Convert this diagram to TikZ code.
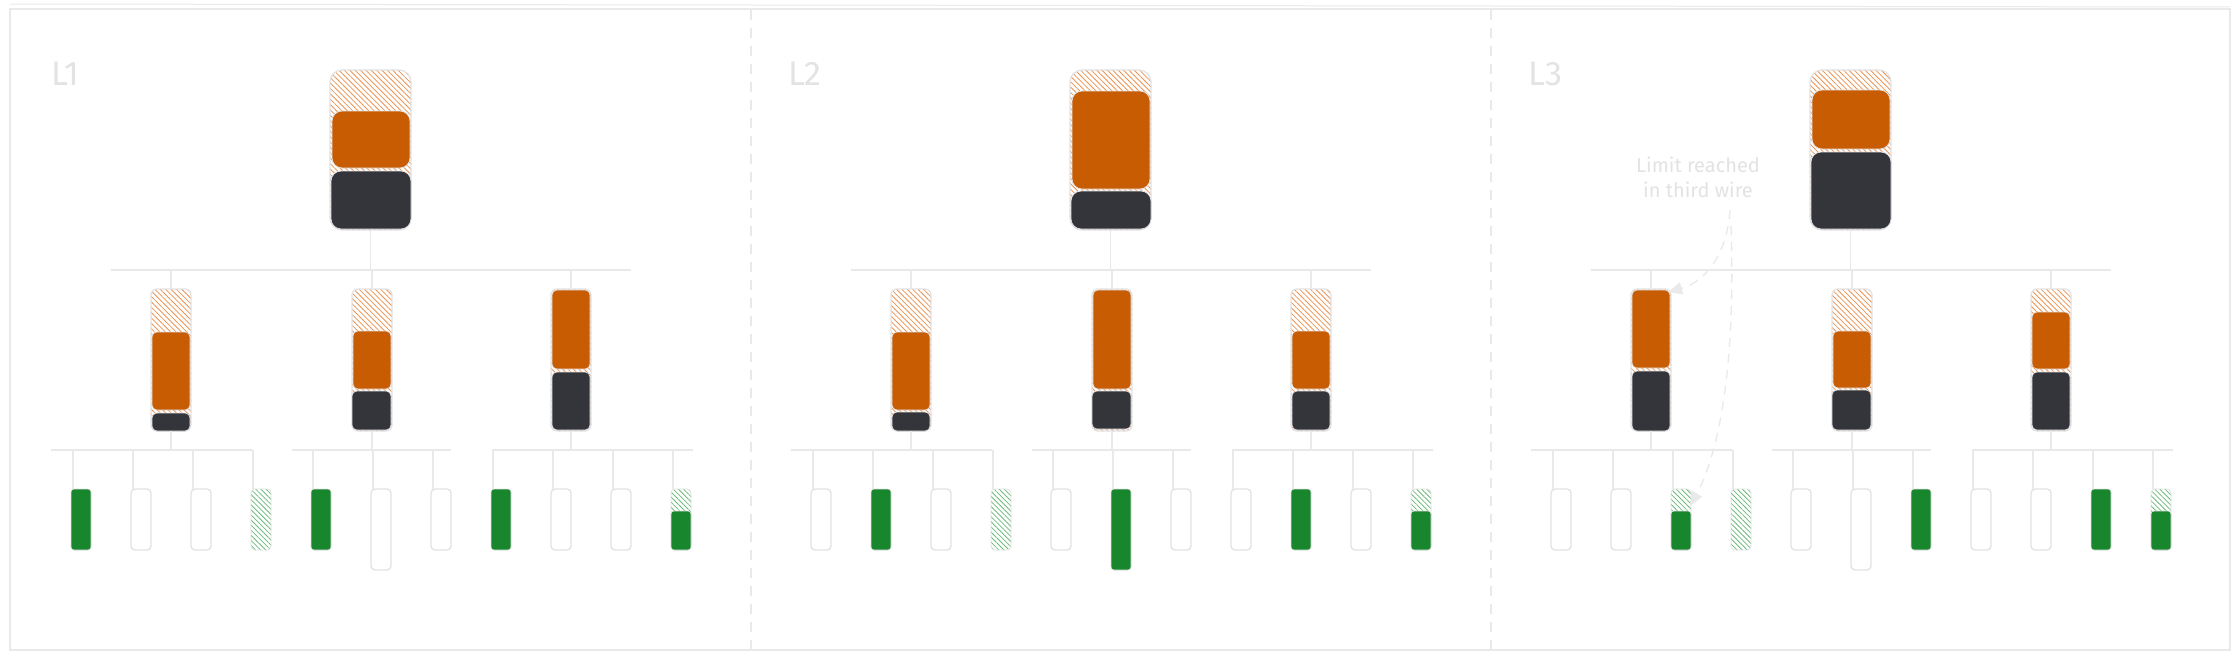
\documentclass[tikz,border=0pt]{standalone}
\usepackage{fontspec}
\setmainfont{Fira Sans}
\usetikzlibrary{patterns.meta,arrows.meta}
\definecolor{orng}{HTML}{C85C02}
\definecolor{drk}{HTML}{33353B}
\definecolor{grn}{HTML}{18862C}
\definecolor{lgray}{HTML}{E9E9E9}
\definecolor{edge}{HTML}{E2E2E4}
\definecolor{hatchO}{HTML}{EB9352}
\definecolor{hatchG}{HTML}{6DBB7A}
\definecolor{txtgray}{HTML}{E3E3E3}
\tikzset{
  base/.style={rectangle,inner sep=0pt,outer sep=0pt},
  capTop/.style={base,rounded corners=12pt,draw=edge,line width=1.2pt,
     pattern={Lines[angle=-45,distance=3.8pt,line width=0.8pt]},pattern color=hatchO},
  capKid/.style={capTop,rounded corners=6pt},
  ofT/.style={base,rounded corners=10pt,fill=orng,draw=edge,line width=0.8pt},
  dfT/.style={base,rounded corners=10pt,fill=drk,draw=edge,line width=0.8pt},
  ofK/.style={base,rounded corners=5pt,fill=orng,draw=edge,line width=0.6pt},
  dfK/.style={base,rounded corners=5pt,fill=drk,draw=edge,line width=0.6pt},
  leafE/.style={base,rounded corners=4pt,draw=edge,line width=1.3pt},
  leafG/.style={base,rounded corners=3pt,fill=grn,draw=edge,line width=0.6pt},
  leafH/.style={base,rounded corners=4pt,draw=edge,line width=0.8pt,
     pattern={Lines[angle=-45,distance=3.6pt,line width=0.8pt]},pattern color=hatchG},
  bus/.style={draw=lgray,line width=2.6pt},
  wire/.style={draw=lgray,line width=1.4pt},
  frame/.style={draw=lgray,line width=1.6pt},
  sep/.style={draw=lgray,line width=1.4pt,dash pattern=on 10pt off 8pt},
  lbl/.style={text=txtgray,font=\fontsize{34}{40}\selectfont,inner sep=0pt},
  note/.style={text=txtgray,font=\fontsize{20}{25}\selectfont,align=center,inner sep=0pt},
  callout/.style={draw=lgray,line width=1.3pt,dash pattern=on 9pt off 7pt,
     -{Triangle[length=14pt,width=12pt,fill=lgray]}},
}
\newcommand\bx[6]{\node[#2,minimum width={((#5)-(#3))*1pt},minimum height={((#6)-(#4))*1pt}] (#1) at ({((#3)+(#5))/2},{((#4)+(#6))/2}) {};}
\newcommand\leaf[4]{\bx{#1}{#3}{71+60*#2}{489}{91+60*#2}{#4}}
\newcommand\leafpart[2]{\bx{#1}{leafG}{71+60*#2}{511}{91+60*#2}{550}}
\newcommand\panelwires[1]{%
  \coordinate (#1B0l) at (111,270); \coordinate (#1B0r) at (631,270);
  \coordinate (#1B1l) at (51,450); \coordinate (#1B1r) at (252,450);
  \coordinate (#1B2l) at (292,450); \coordinate (#1B2r) at (451,450);
  \coordinate (#1B3l) at (492,450); \coordinate (#1B3r) at (693,450);
  \draw[bus] (#1B0l) -- (#1B0r);
  \draw[bus] (#1B1l) -- (#1B1r);
  \draw[bus] (#1B2l) -- (#1B2r);
  \draw[bus] (#1B3l) -- (#1B3r);
  \draw[wire] (#1T.south) -- (#1T.south |- #1B0l);
  \foreach \c in {1,2,3}{%
    \draw[wire] (#1C\c.north) -- (#1C\c.north |- #1B0l);
    \draw[wire] (#1C\c.south) -- (#1C\c.south |- #1B1l);}
  \foreach \k in {0,...,10}{%
    \draw[wire] ([xshift=2pt]#1L\k.north west) -- ([xshift=2pt]#1L\k.north west |- #1B1l);}
}
\begin{document}
\begin{tikzpicture}[x=1pt,y=-1pt]
\useasboundingbox (0,0) rectangle (2240,661);
\fill[white] (0,0) rectangle (2240,661);
% frame and separators
\draw[frame] (10,9) rectangle (2230,650);
\draw[frame,line width=1pt] (10,4) -- (2230,7);
\draw[sep] (751,10) -- (751,650);
\draw[sep] (1491,10) -- (1491,650);
% ---------------- L1
\begin{scope}
\node[lbl] (labA) at (65,74) {L1};
\bx{aT}{capTop}{330}{70}{411}{230}
\bx{aTo}{ofT}{332}{111}{410}{168}
\bx{aTd}{dfT}{331}{171}{411}{229}
\bx{aC1}{capKid}{151}{289}{191}{431}
\bx{aC1o}{ofK}{152}{332}{190}{410}
\bx{aC1d}{dfK}{152}{413}{190}{431}
\bx{aC2}{capKid}{352}{289}{392}{431}
\bx{aC2o}{ofK}{353}{331}{391}{389}
\bx{aC2d}{dfK}{352}{391}{391}{430}
\bx{aC3}{capKid}{551}{289}{591}{431}
\bx{aC3o}{ofK}{552}{290}{590}{369}
\bx{aC3d}{dfK}{552}{372}{590}{430}
\leaf{aL0}{0}{leafG}{550}
\leaf{aL1}{1}{leafE}{550}
\leaf{aL2}{2}{leafE}{550}
\leaf{aL3}{3}{leafH}{550}
\leaf{aL4}{4}{leafG}{550}
\leaf{aL5}{5}{leafE}{570}
\leaf{aL6}{6}{leafE}{550}
\leaf{aL7}{7}{leafG}{550}
\leaf{aL8}{8}{leafE}{550}
\leaf{aL9}{9}{leafE}{550}
\leaf{aL10}{10}{leafH}{550}
\leafpart{aL10f}{10}
\panelwires{a}
\end{scope}
% ---------------- L2
\begin{scope}[xshift=740pt]
\node[lbl] (labB) at (65,74) {L2};
\bx{bT}{capTop}{330}{70}{411}{230}
\bx{bTo}{ofT}{332}{91}{410}{189}
\bx{bTd}{dfT}{331}{191}{411}{229}
\bx{bC1}{capKid}{151}{289}{191}{431}
\bx{bC1o}{ofK}{152}{332}{190}{410}
\bx{bC1d}{dfK}{152}{412}{190}{431}
\bx{bC2}{capKid}{352}{289}{392}{431}
\bx{bC2o}{ofK}{353}{290}{391}{389}
\bx{bC2d}{dfK}{352}{391}{391}{429}
\bx{bC3}{capKid}{551}{289}{591}{431}
\bx{bC3o}{ofK}{552}{331}{590}{389}
\bx{bC3d}{dfK}{552}{391}{590}{430}
\leaf{bL0}{0}{leafE}{550}
\leaf{bL1}{1}{leafG}{550}
\leaf{bL2}{2}{leafE}{550}
\leaf{bL3}{3}{leafH}{550}
\leaf{bL4}{4}{leafE}{550}
\leaf{bL5}{5}{leafG}{570}
\leaf{bL6}{6}{leafE}{550}
\leaf{bL7}{7}{leafE}{550}
\leaf{bL8}{8}{leafG}{550}
\leaf{bL9}{9}{leafE}{550}
\leaf{bL10}{10}{leafH}{550}
\leafpart{bL10f}{10}
\panelwires{b}
\end{scope}
% ---------------- L3
\begin{scope}[xshift=1480pt]
\node[lbl] (labC) at (65,74) {L3};
\bx{cT}{capTop}{330}{70}{411}{230}
\bx{cTo}{ofT}{332}{90}{410}{149}
\bx{cTd}{dfT}{331}{152}{411}{229}
\bx{cC1}{capKid}{151}{289}{191}{431}
\bx{cC1o}{ofK}{152}{290}{190}{368}
\bx{cC1d}{dfK}{152}{371}{190}{431}
\bx{cC2}{capKid}{352}{289}{392}{431}
\bx{cC2o}{ofK}{353}{331}{391}{388}
\bx{cC2d}{dfK}{352}{390}{391}{430}
\bx{cC3}{capKid}{551}{289}{591}{431}
\bx{cC3o}{ofK}{552}{312}{590}{369}
\bx{cC3d}{dfK}{552}{372}{590}{430}
\leaf{cL0}{0}{leafE}{550}
\leaf{cL1}{1}{leafE}{550}
\leaf{cL2}{2}{leafH}{550}
\leafpart{cL2f}{2}
\leaf{cL3}{3}{leafH}{550}
\leaf{cL4}{4}{leafE}{550}
\leaf{cL5}{5}{leafE}{570}
\leaf{cL6}{6}{leafG}{550}
\leaf{cL7}{7}{leafE}{550}
\leaf{cL8}{8}{leafE}{550}
\leaf{cL9}{9}{leafG}{550}
\leaf{cL10}{10}{leafH}{550}
\leafpart{cL10f}{10}
\panelwires{c}
\end{scope}
% annotation
\node[note] (note) at (1698,177) {Limit reached\\in third wire};
\coordinate (n1) at (1730,210);
\coordinate (n2) at (1731,226);
\coordinate (t1) at (1668,292);
\coordinate (t2) at (1690,506);
\draw[callout] (n1) .. controls (1727,255) and (1705,282) .. (t1);
\draw[callout] (n2) .. controls (1736,370) and (1718,455) .. (t2);
\end{tikzpicture}
\end{document}
